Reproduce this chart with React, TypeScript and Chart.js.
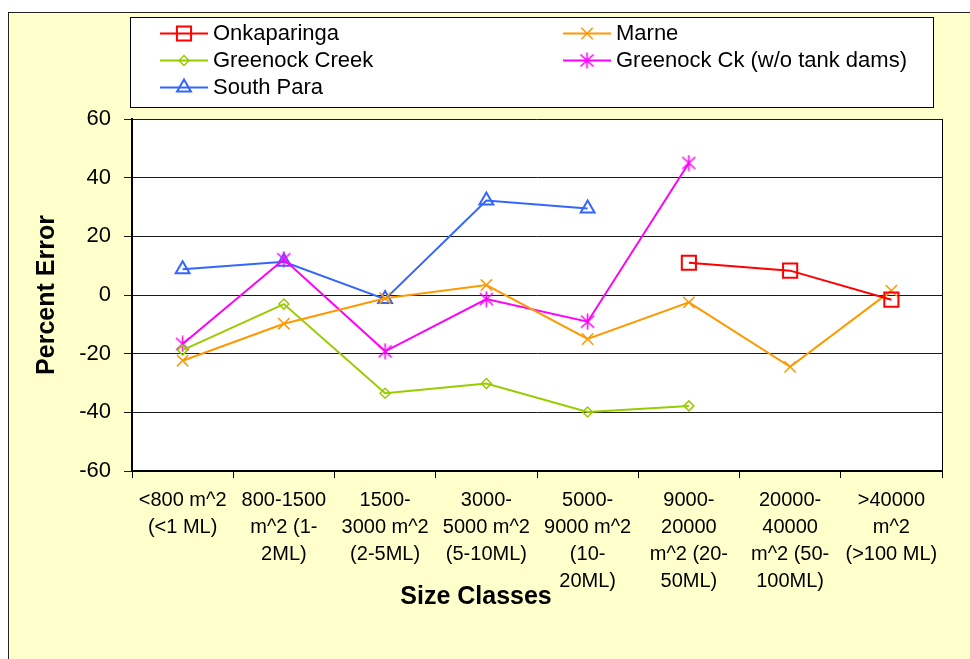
import React, { useEffect, useRef } from 'react';
import { Chart, registerables } from 'chart.js';
import { drawPoint } from 'chart.js/helpers';

Chart.register(...registerables);

// ---------- data ----------
const categories: string[][] = [
  ['<800 m^2', '(<1 ML)'],
  ['800-1500', 'm^2 (1-', '2ML)'],
  ['1500-', '3000 m^2', '(2-5ML)'],
  ['3000-', '5000 m^2', '(5-10ML)'],
  ['5000-', '9000 m^2', '(10-', '20ML)'],
  ['9000-', '20000', 'm^2 (20-', '50ML)'],
  ['20000-', '40000', 'm^2 (50-', '100ML)'],
  ['>40000', 'm^2', '(>100 ML)'],
];

const onkaparinga: (number | null)[] = [null, null, null, null, null, 11.0, 8.3, -1.6];
const marne: (number | null)[] = [-22.4, -9.8, -1.1, 3.4, -15.0, -2.5, -24.5, 1.5];
const greenockCreek: (number | null)[] = [-18.8, -3.1, -33.5, -30.2, -39.9, -37.8, null, null];
const greenockNoDams: (number | null)[] = [-16.7, 12.2, -19.2, -1.4, -9.1, 45.0, null, null];
const southPara: (number | null)[] = [8.8, 11.3, -1.4, 32.2, 29.5, null, null, null];

const seriesNames = ['Onkaparinga', 'Marne', 'Greenock Creek', 'Greenock Ck (w/o tank dams)', 'South Para'];
const seriesColors = ['#FF0000', '#FF9900', '#99CC00', '#FF00FF', '#3366FF'];

const yMin = -60;
const yMax = 60;
const yStep = 20;

const yTitle = 'Percent Error';
const xTitle = 'Size Classes';

const FONT = "'Liberation Sans', Arial, Helvetica, sans-serif";

function makeStar(color: string): HTMLCanvasElement {
  const c = document.createElement('canvas');
  c.width = 15;
  c.height = 17;
  const g = c.getContext('2d')!;
  g.strokeStyle = color;
  g.lineWidth = 1.6;
  g.beginPath();
  g.moveTo(7.5, 0.5);
  g.lineTo(7.5, 16.5);
  g.moveTo(1, 2.5);
  g.lineTo(14, 14.5);
  g.moveTo(14, 2.5);
  g.lineTo(1, 14.5);
  g.stroke();
  return c;
}

const plotBgPlugin = {
  id: 'plotBg',
  beforeDraw(chart: any) {
    const { ctx, chartArea: a } = chart;
    ctx.save();
    ctx.fillStyle = '#FFFFFF';
    ctx.fillRect(a.left, a.top, a.right - a.left, a.bottom - a.top);
    ctx.restore();
  },
  afterDraw(chart: any) {
    const { ctx, chartArea: a } = chart;
    ctx.save();
    // right border of plot
    ctx.strokeStyle = '#000';
    ctx.lineWidth = 1;
    ctx.beginPath();
    ctx.moveTo(Math.round(a.right) + 0.5, a.top);
    ctx.lineTo(Math.round(a.right) + 0.5, a.bottom);
    ctx.stroke();
    // x axis title
    ctx.fillStyle = '#000';
    ctx.font = `bold 25px ${FONT}`;
    ctx.textAlign = 'center';
    ctx.textBaseline = 'middle';
    ctx.fillText(xTitle, 476, 597);
    // legend box
    ctx.fillStyle = '#FFFFFF';
    ctx.fillRect(130, 17, 803, 90);
    ctx.strokeStyle = '#000';
    ctx.lineWidth = 1;
    ctx.strokeRect(130.5, 17.5, 803, 90);
    const slots = [
      [160, 33],
      [563, 33],
      [160, 60],
      [563, 60],
      [160, 87],
    ];
    chart.data.datasets.forEach((ds: any, i: number) => {
      const [x0, y] = slots[i];
      ctx.strokeStyle = ds.borderColor;
      ctx.lineWidth = ds.borderWidth;
      ctx.beginPath();
      ctx.moveTo(x0, y + 0.5);
      ctx.lineTo(x0 + 48, y + 0.5);
      ctx.stroke();
      ctx.strokeStyle = ds.pointBorderColor;
      ctx.fillStyle = 'rgba(0,0,0,0)';
      ctx.lineWidth = ds.pointBorderWidth;
      drawPoint(
        ctx,
        { pointStyle: ds.pointStyle, radius: ds.pointRadius, borderWidth: ds.pointBorderWidth, rotation: 0 } as any,
        x0 + 24,
        y + 0.5
      );
      ctx.fillStyle = '#000';
      ctx.font = `22px ${FONT}`;
      ctx.textAlign = 'left';
      ctx.textBaseline = 'middle';
      ctx.fillText(ds.label, x0 + 53, y + 1);
    });
    ctx.restore();
  },
};

export default function App() {
  const ref = useRef<HTMLCanvasElement>(null);

  useEffect(() => {
    if (!ref.current) return;
    const star = makeStar(seriesColors[3]);
    const styles: any[] = ['rect', 'crossRot', 'rectRot', star, 'triangle'];
    const radii = [10, 8, 5, 8, 8];
    const pbw = [2, 1.5, 1.5, 1.5, 2];
    const values = [onkaparinga, marne, greenockCreek, greenockNoDams, southPara];

    const datasets = values.map((v, i) => ({
      label: seriesNames[i],
      data: v,
      borderColor: seriesColors[i],
      backgroundColor: 'rgba(0,0,0,0)',
      borderWidth: 2,
      pointStyle: styles[i],
      pointRadius: radii[i],
      pointHoverRadius: radii[i],
      pointBorderColor: seriesColors[i],
      pointBackgroundColor: 'rgba(0,0,0,0)',
      pointBorderWidth: pbw[i],
      tension: 0,
      spanGaps: false,
    }));

    const chart = new Chart(ref.current, {
      type: 'line',
      data: { labels: categories, datasets },
      options: {
        responsive: false,
        animation: false,
        events: [],
        layout: { padding: { left: 0, top: 119, right: 28, bottom: 0 } },
        plugins: {
          legend: { display: false },
          title: { display: false },
          tooltip: { enabled: false },
        },
        scales: {
          x: {
            type: 'category',
            offset: true,
            afterFit: (s: any) => {
              s.height = 188;
            },
            grid: {
              display: true,
              drawOnChartArea: false,
              drawTicks: true,
              tickLength: 7,
              color: '#000',
              offset: true,
            },
            border: { display: true, color: '#000', width: 2 },
            ticks: {
              autoSkip: false,
              maxRotation: 0,
              minRotation: 0,
              color: '#000',
              padding: 9,
              font: { family: FONT, size: 20, lineHeight: 1.35 },
            },
          },
          y: {
            min: yMin,
            max: yMax,
            afterFit: (s: any) => {
              s.width = 132;
            },
            grid: {
              color: '#1a1a1a',
              lineWidth: 1,
              drawTicks: true,
              tickLength: 8,
              tickColor: '#1a1a1a',
            },
            border: { display: true, color: '#000', width: 2 },
            ticks: {
              stepSize: yStep,
              color: '#000',
              padding: 13,
              font: { family: FONT, size: 22 },
            },
            title: {
              display: true,
              text: yTitle,
              color: '#000',
              font: { family: FONT, size: 25, weight: 'bold' },
              padding: { top: 32, bottom: 0 },
            },
          },
        },
      },
      plugins: [plotBgPlugin],
    });
    return () => chart.destroy();
  }, []);

  return (
    <div>
      <div
        style={{
          position: 'absolute',
          left: 8,
          top: 12,
          width: 962,
          height: 647,
          background: '#FFFFCC',
          borderTop: '1px solid #222',
          borderLeft: '1px solid #222',
          boxSizing: 'border-box',
        }}
      />
      <canvas
        ref={ref}
        width={970}
        height={659}
        style={{ position: 'absolute', left: 0, top: 0, width: 970, height: 659 }}
      />
    </div>
  );
}
